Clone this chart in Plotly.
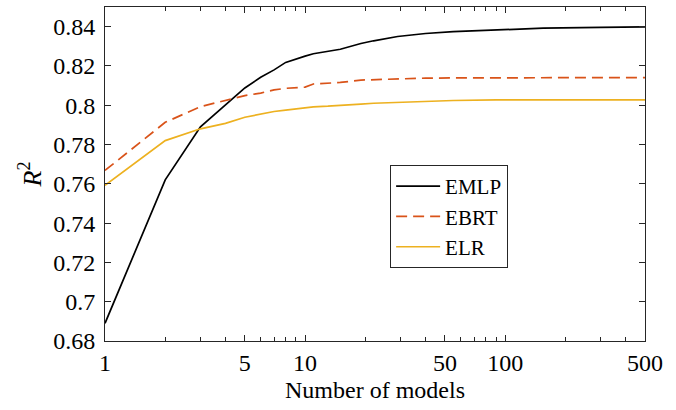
import plotly.graph_objects as go

x_models = [1, 2, 3, 4, 5, 6, 7, 8, 9, 10, 11, 13, 15, 19, 22, 29, 40, 55, 90, 155, 300, 500]
emlp = [0.689, 0.762, 0.789, 0.800, 0.8088, 0.8142, 0.8180, 0.8218, 0.8236, 0.8250, 0.8262, 0.8275, 0.8285, 0.8314, 0.8328, 0.8350, 0.8365, 0.8375, 0.8382, 0.8392, 0.8396, 0.8399]
ebrt = [0.7668, 0.7913, 0.7993, 0.8025, 0.8049, 0.8062, 0.8078, 0.8086, 0.8088, 0.8092, 0.8108, 0.8113, 0.8116, 0.8128, 0.8130, 0.8134, 0.8138, 0.8139, 0.8140, 0.8141, 0.8141, 0.8141]
elr = [0.7592, 0.7820, 0.7880, 0.7908, 0.7939, 0.7955, 0.7968, 0.7975, 0.7982, 0.7989, 0.7992, 0.7995, 0.7998, 0.8006, 0.8010, 0.8015, 0.8020, 0.8024, 0.8027, 0.8027, 0.8027, 0.8027]

x_ticks = [1, 5, 10, 50, 100, 500]
x_minor = [2, 3, 4, 6, 7, 8, 9, 20, 30, 40, 60, 70, 80, 90, 200, 300, 400]
y_ticks = [0.68, 0.70, 0.72, 0.74, 0.76, 0.78, 0.80, 0.82, 0.84]
y_ticktext = ["0.68", "0.7", "0.72", "0.74", "0.76", "0.78", "0.8", "0.82", "0.84"]

font = "Liberation Serif"
fig = go.Figure()
fig.add_trace(go.Scatter(x=x_models, y=emlp, mode="lines", name="EMLP",
                         line=dict(color="#000000", width=1.7)))
fig.add_trace(go.Scatter(x=x_models, y=ebrt, mode="lines", name="EBRT",
                         line=dict(color="#D95319", width=1.7, dash="11px,6px")))
fig.add_trace(go.Scatter(x=x_models, y=elr, mode="lines", name="ELR",
                         line=dict(color="#EDB120", width=1.7)))

axis_common = dict(showline=True, linecolor="#262626", linewidth=1, mirror="allticks",
                   ticks="inside", ticklen=6, tickcolor="#262626", tickwidth=1,
                   showgrid=False, zeroline=False,
                   tickfont=dict(family=font, size=24, color="#000000"))
fig.update_layout(
    width=676, height=410,
    margin=dict(l=105, r=31, t=7, b=69),
    paper_bgcolor="white", plot_bgcolor="white",
    font=dict(family=font, color="#000000", size=24),
    showlegend=True,
    legend=dict(x=0.528, y=0.527, xanchor="left", yanchor="top",
                bgcolor="white", bordercolor="#262626", borderwidth=1,
                font=dict(family=font, size=21, color="#000000"),
                tracegroupgap=0, itemwidth=44),
    xaxis=dict(type="log", range=[0, 2.69897], tickvals=x_ticks,
               ticktext=[str(v) for v in x_ticks],
               minor=dict(tickvals=x_minor, ticks="inside", ticklen=4,
                          tickcolor="#262626", tickwidth=1, showgrid=False),
               title=dict(text="Number of models", font=dict(family=font, size=24), standoff=6),
               **axis_common),
    yaxis=dict(range=[0.68, 0.85], tickvals=y_ticks, ticktext=y_ticktext,
               ticklabelstandoff=4,
               title=dict(text="<i>R</i><sup>2</sup>", font=dict(family=font, size=26), standoff=4),
               **axis_common),
)
fig.write_html("out.html")
